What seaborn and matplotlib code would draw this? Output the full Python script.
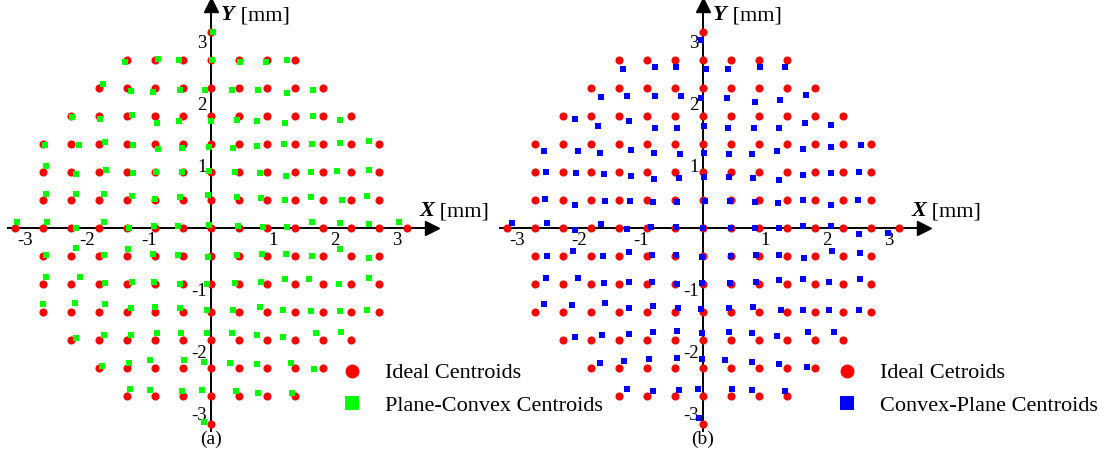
import numpy as np
import pandas as pd
import matplotlib
matplotlib.use("Agg")
import matplotlib.pyplot as plt
import seaborn as sns
from matplotlib.ticker import FixedLocator, MultipleLocator
from matplotlib.lines import Line2D

# ---------------- data (mm) ----------------
PITCH_MM = 0.452                      # lenslet pitch of the ideal grid
ROW_J = [7, 6, 5, 4, 3, 2, 1, 0, -1, -2, -3, -4, -5, -6, -7]
ROW_HALF = [0, 3, 4, 5, 6, 6, 6, 7, 6, 6, 6, 5, 4, 3, 0]   # columns -h..h present in each row

# Plane-Convex centroid displacement from the ideal spot (mm), row by row (left -> right)
PC_DX = [
    [0.04],
    [-0.03, 0.05, -0.06, 0.01, 0.01, -0.02, -0.13],
    [0.07, 0.06, -0.03, -0.05, -0.10, -0.12, -0.15, -0.13, -0.17],
    [0.02, 0.01, 0.08, 0.03, -0.06, 0.00, -0.03, -0.17, -0.16, -0.17, -0.18],
    [0.03, 0.13, 0.10, 0.10, 0.05, -0.01, -0.04, -0.10, -0.16, -0.18, -0.18, -0.18, -0.16],
    [0.05, 0.08, 0.11, 0.10, 0.02, -0.02, -0.04, -0.07, -0.12, -0.14, -0.19, -0.22, -0.17],
    [0.05, 0.09, 0.08, 0.08, 0.00, -0.05, -0.05, -0.04, -0.09, -0.17, -0.20, -0.15, -0.20],
    [0.04, 0.07, 0.09, 0.08, 0.04, -0.02, -0.08, -0.04, -0.01, -0.07, -0.13, -0.18, -0.18, -0.17, -0.13],
    [0.05, 0.09, 0.08, 0.02, -0.03, -0.08, -0.05, -0.03, -0.08, -0.14, -0.18, -0.18, -0.17],
    [0.05, 0.15, 0.10, 0.08, -0.02, -0.05, -0.06, -0.06, -0.10, -0.16, -0.22, -0.19, -0.16],
    [0.00, 0.06, 0.10, 0.07, 0.00, -0.04, -0.07, -0.10, -0.12, -0.19, -0.20, -0.18, -0.19],
    [0.08, 0.08, 0.06, 0.03, -0.03, -0.07, -0.11, -0.17, -0.19, -0.12, -0.16],
    [0.05, 0.04, -0.08, 0.01, -0.12, -0.15, -0.17, -0.06, -0.15],
    [0.05, -0.08, -0.01, -0.14, -0.05, -0.15, -0.05],
    [-0.11],
]
PC_DY = [
    [0.00],
    [-0.04, 0.01, -0.01, -0.01, -0.04, -0.04, -0.01],
    [0.06, -0.05, -0.06, -0.04, -0.03, -0.04, -0.04, -0.09, -0.04],
    [-0.02, -0.05, 0.02, -0.11, -0.08, -0.08, -0.06, -0.08, -0.12, 0.00, -0.06],
    [-0.02, -0.02, 0.03, -0.02, -0.08, -0.06, -0.05, -0.06, -0.04, 0.00, 0.00, 0.02, 0.05],
    [0.09, -0.03, 0.03, -0.02, 0.00, 0.00, 0.02, 0.00, -0.02, -0.06, 0.00, 0.02, 0.03],
    [0.09, 0.09, 0.09, 0.06, 0.01, 0.04, 0.08, 0.05, 0.03, 0.00, 0.05, 0.00, 0.06],
    [0.10, 0.10, 0.00, 0.10, 0.00, 0.03, 0.04, 0.05, 0.04, 0.02, 0.01, 0.09, 0.08, 0.06, 0.09],
    [0.02, 0.13, 0.02, 0.11, 0.03, 0.02, -0.02, 0.02, 0.03, 0.03, 0.00, 0.11, -0.03],
    [0.11, 0.11, 0.02, 0.03, 0.03, 0.00, 0.00, 0.02, 0.04, 0.08, 0.08, 0.00, 0.09],
    [0.13, 0.15, 0.13, 0.06, 0.08, 0.06, 0.04, 0.04, 0.08, 0.04, 0.02, 0.02, 0.04],
    [0.04, 0.08, 0.08, 0.11, 0.11, 0.11, 0.11, 0.08, 0.05, 0.11, 0.13],
    [0.04, 0.08, 0.13, 0.13, 0.10, 0.08, 0.06, 0.08, -0.02],
    [0.11, 0.10, 0.08, 0.10, 0.08, 0.05, 0.05],
    [0.04],
]

# Convex-Plane centroid displacement from the ideal spot (mm)
CP_DX = [
    [-0.04],
    [0.06, 0.13, 0.01, 0.05, -0.05, 0.02, -0.03],
    [0.17, 0.13, 0.13, 0.09, -0.04, -0.06, -0.07, -0.11, -0.15],
    [0.19, 0.11, 0.17, 0.13, 0.04, 0.01, -0.05, -0.08, -0.13, -0.17, -0.19],
    [0.15, 0.24, 0.14, 0.19, 0.11, 0.08, 0.01, -0.03, -0.11, -0.17, -0.19, -0.19, -0.17],
    [0.18, 0.21, 0.21, 0.19, 0.11, 0.06, 0.01, -0.03, -0.10, -0.13, -0.19, -0.19, -0.19],
    [0.16, 0.20, 0.22, 0.18, 0.09, 0.03, 0.03, -0.01, -0.06, -0.15, -0.19, -0.19, -0.22],
    [0.09, 0.20, 0.19, 0.17, 0.13, 0.07, 0.01, 0.00, 0.00, -0.07, -0.13, -0.19, -0.19, -0.19, -0.18],
    [0.20, 0.17, 0.20, 0.17, 0.08, 0.02, -0.02, 0.00, -0.05, -0.13, -0.18, -0.18, -0.18],
    [0.18, 0.25, 0.21, 0.17, 0.08, 0.03, -0.02, -0.02, -0.05, -0.13, -0.20, -0.22, -0.18],
    [0.15, 0.15, 0.22, 0.17, 0.10, 0.05, -0.03, -0.04, -0.09, -0.10, -0.19, -0.22, -0.19],
    [0.19, 0.18, 0.16, 0.09, 0.04, -0.02, -0.04, -0.11, -0.16, -0.12, -0.15],
    [0.15, 0.08, 0.03, 0.03, -0.02, -0.09, -0.11, -0.13, -0.13],
    [0.13, 0.10, 0.07, -0.08, 0.02, -0.11, -0.04],
    [-0.06],
]
CP_DY = [
    [-0.13],
    [-0.14, -0.11, -0.12, -0.15, -0.14, -0.12, -0.12],
    [-0.14, -0.13, -0.13, -0.13, -0.16, -0.16, -0.22, -0.20, -0.12],
    [-0.05, -0.16, -0.09, -0.20, -0.19, -0.17, -0.19, -0.20, -0.20, -0.11, -0.14],
    [-0.11, -0.11, -0.14, -0.09, -0.14, -0.16, -0.14, -0.16, -0.17, -0.11, -0.08, -0.05, -0.02],
    [0.00, -0.01, -0.04, -0.06, -0.11, -0.10, -0.08, -0.08, -0.10, -0.13, -0.05, -0.02, 0.00],
    [0.02, -0.08, -0.01, -0.01, -0.04, -0.03, -0.01, -0.02, -0.03, -0.05, 0.00, -0.08, 0.00],
    [0.08, 0.08, -0.03, 0.06, -0.01, 0.01, 0.01, 0.00, 0.00, 0.00, 0.00, 0.03, 0.03, -0.09, -0.08],
    [0.00, 0.08, 0.00, 0.06, 0.02, 0.02, -0.02, 0.00, 0.02, 0.02, -0.03, 0.08, 0.05],
    [0.10, 0.09, 0.02, 0.03, 0.03, 0.00, 0.01, 0.01, 0.04, 0.06, 0.08, 0.04, 0.08],
    [0.13, 0.12, 0.14, 0.06, 0.09, 0.06, 0.05, 0.06, 0.08, 0.04, 0.03, 0.03, 0.04],
    [0.05, 0.09, 0.10, 0.13, 0.14, 0.12, 0.13, 0.11, 0.06, 0.13, 0.13],
    [0.08, 0.12, 0.15, 0.16, 0.15, 0.13, 0.10, 0.06, 0.02],
    [0.11, 0.09, 0.10, 0.12, 0.11, 0.10, 0.08],
    [0.10],
]

X_TICKS = [-3, -2, -1, 1, 2, 3]
Y_TICKS = [-3, -2, -1, 1, 2, 3]
LEGEND_A = ["Ideal Centroids", "Plane-Convex Centroids"]
LEGEND_B = ["Ideal Cetroids", "Convex-Plane Centroids"]
CAPTIONS = ["(a)", "(b)"]


def build_frames(dx_rows, dy_rows):
    ideal, meas = [], []
    for j, h, dxr, dyr in zip(ROW_J, ROW_HALF, dx_rows, dy_rows):
        assert len(dxr) == 2 * h + 1 and len(dyr) == 2 * h + 1, (j, len(dxr), len(dyr))
        for k, i in enumerate(range(-h, h + 1)):
            xi, yi = i * PITCH_MM, j * PITCH_MM
            ideal.append((xi, yi))
            meas.append((xi + dxr[k], yi + dyr[k]))
    return (pd.DataFrame(ideal, columns=["x", "y"]),
            pd.DataFrame(meas, columns=["x", "y"]))


sns.set_style("white")
plt.rcParams["font.family"] = ["Liberation Serif", "DejaVu Serif"]
plt.rcParams["axes.unicode_minus"] = False
plt.rcParams["text.color"] = "black"
plt.rcParams["axes.labelcolor"] = "black"
plt.rcParams["xtick.color"] = "black"
plt.rcParams["ytick.color"] = "black"

W, H = 1104, 462
PX_PER_MM = 62.0
fig = plt.figure(figsize=(W / 100, H / 100), dpi=100)

RED, GREEN, BLUE = "#ff0000", "#00ff00", "#0000ff"


def draw_panel(origin_px, dx_rows, dy_rows, sq_color, labels, caption, leg_anchor):
    left_px, right_px = origin_px - 203, origin_px + 221
    bottom_px, top_px = 31, 457
    origin_y = 234
    ax = fig.add_axes([left_px / W, bottom_px / H, (right_px - left_px) / W, (top_px - bottom_px) / H])
    ax.set_xlim(-203 / PX_PER_MM, 221 / PX_PER_MM)
    ax.set_ylim((bottom_px - origin_y) / PX_PER_MM, (top_px - origin_y) / PX_PER_MM)
    ax.patch.set_alpha(0)

    ideal, meas = build_frames(dx_rows, dy_rows)
    sns.scatterplot(data=ideal, x="x", y="y", ax=ax, color=RED, marker="o", s=34,
                    linewidth=0, legend=False, zorder=3)
    sns.scatterplot(data=meas, x="x", y="y", ax=ax, color=sq_color, marker="s", s=24,
                    linewidth=0, legend=False, zorder=4)

    for s in ["top", "right"]:
        ax.spines[s].set_visible(False)
    ax.spines["left"].set_position(("data", 0))
    ax.spines["bottom"].set_position(("data", 0))
    for s in ["left", "bottom"]:
        ax.spines[s].set_linewidth(1.4)
        ax.spines[s].set_color("black")
        ax.spines[s].set_zorder(2)

    ax.xaxis.set_major_locator(FixedLocator(X_TICKS))
    ax.yaxis.set_major_locator(FixedLocator(Y_TICKS))
    ax.xaxis.set_minor_locator(MultipleLocator(0.2))
    ax.yaxis.set_minor_locator(MultipleLocator(0.2))
    ax.tick_params(which="major", direction="in", length=10, width=1.3, labelsize=13.5,
                   pad=3, colors="black")
    ax.tick_params(which="minor", direction="in", length=5, width=1.1, colors="black")
    ax.set_xlabel("")
    ax.set_ylabel("")

    # arrow heads
    ax.plot(1, 0, marker=">", ms=10, color="black", transform=ax.get_yaxis_transform(),
            clip_on=False, zorder=5)
    ax.plot(0, 1, marker="^", ms=10, color="black", transform=ax.get_xaxis_transform(),
            clip_on=False, zorder=5)

    # axis labels
    tx = ax.text(3.36, 0.19, "X", fontsize=16, fontweight="bold", fontstyle="italic",
                 ha="left", va="baseline", color="black")
    ax.annotate(" [mm]", xy=(1, 0), xycoords=tx, va="bottom", ha="left", fontsize=16,
                color="black")
    ty = ax.text(0.16, 3.35, "Y", fontsize=16, fontweight="bold", fontstyle="italic",
                 ha="left", va="baseline", color="black")
    ax.annotate(" [mm]", xy=(1, 0), xycoords=ty, va="bottom", ha="left", fontsize=16,
                color="black")

    handles = [
        Line2D([], [], linestyle="none", marker="o", markersize=10, markerfacecolor=RED,
               markeredgewidth=0),
        Line2D([], [], linestyle="none", marker="s", markersize=9.5, markerfacecolor=sq_color,
               markeredgewidth=0),
    ]
    ax.legend(handles, labels, loc="upper left", bbox_to_anchor=leg_anchor, frameon=False,
              fontsize=16, handlelength=1.0, handletextpad=1.0, labelspacing=0.55,
              borderpad=0, borderaxespad=0, labelcolor="black")

    fig.text(origin_px / W, 1 - 439 / H, caption, ha="center", va="center", fontsize=14,
             color="black")
    return ax


draw_panel(211, PC_DX, PC_DY, GREEN, LEGEND_A, CAPTIONS[0], (0.785, 0.160))
draw_panel(703, CP_DX, CP_DY, BLUE, LEGEND_B, CAPTIONS[1], (0.792, 0.160))

fig.savefig("out.png", dpi=100)
